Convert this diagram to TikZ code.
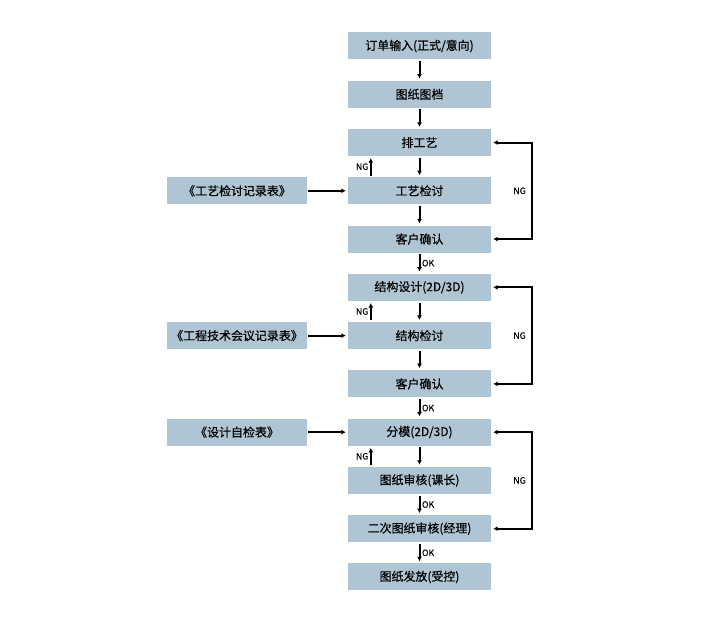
\documentclass[tikz,border=0pt]{standalone}
\usepackage{fontspec}
\setmainfont{Noto Sans CJK SC}
\newfontfamily\boxfont{Noto Sans CJK SC}[FakeBold=0.5]
\usetikzlibrary{arrows.meta,positioning}

\definecolor{boxblue}{RGB}{175,197,211}

\tikzset{
  flowbox/.style={fill=boxblue,minimum width=143bp,minimum height=27bp,inner sep=0pt,
    font=\boxfont\fontsize{12}{14}\selectfont},
  formbox/.style={flowbox,minimum width=140bp},
  flowarrow/.style={line width=2bp,-{Latex[length=4.5pt,width=5pt]},shorten <=1.5bp,shorten >=2bp},
  looparrow/.style={line width=2bp,{Latex[length=4.5pt,width=5pt]}-{Latex[length=4.5pt,width=5pt]},shorten <=2bp,shorten >=2bp},
  tag/.style={font=\boxfont\fontsize{8.8}{10}\selectfont,inner sep=1.5pt}
}

\begin{document}
\begin{tikzpicture}[x=1bp,y=-1bp]
  \def\gap{48.27}
  \useasboundingbox (0,0) rectangle (720,635);

  % main column
  \foreach \t [count=\i] in {订单输入(正式/意向),图纸图档,排工艺,工艺检讨,客户确认,结构设计(2D/3D),结构检讨,客户确认,分模(2D/3D),图纸审核(课长),二次图纸审核(经理),图纸发放(受控)} {
    \node[flowbox] (m\i) at (419.5,{46+(\i-1)*\gap}) {\t};
  }

  % forms on the left
  \node[formbox] (f4) at (237,{46+3*\gap}) {《工艺检讨记录表》};
  \node[formbox] (f7) at (237,{46+6*\gap}) {《工程技术会议记录表》};
  \node[formbox] (f9) at (237,{46+8*\gap}) {《设计自检表》};
  \foreach \i in {4,7,9}
    \draw[flowarrow,shorten <=1bp] (f\i) -- (m\i);

  % plain steps
  \foreach \i/\j in {1/2,2/3,3/4,4/5,6/7,7/8,9/10}
    \draw[flowarrow] (m\i) -- (m\j);

  % steps that pass
  \foreach \i/\j in {5/6,8/9,10/11,11/12}
    \draw[flowarrow] (m\i) -- (m\j) node[tag,midway,right] {OK};

  % small NG back arrows
  \foreach \i/\j in {4/3,7/6,10/9}
    \draw[flowarrow] ([xshift=23bp]m\i.north west) -- ([xshift=23bp]m\j.south west)
      node[tag,midway,left] {NG};

  % NG loops on the right
  \foreach \a/\b in {3/5,6/8,9/11}
    \draw[looparrow] (m\a.east) -- ++(41,0) |- (m\b.east) node[tag,pos=0.25,left=4bp] {NG};
\end{tikzpicture}
\end{document}
